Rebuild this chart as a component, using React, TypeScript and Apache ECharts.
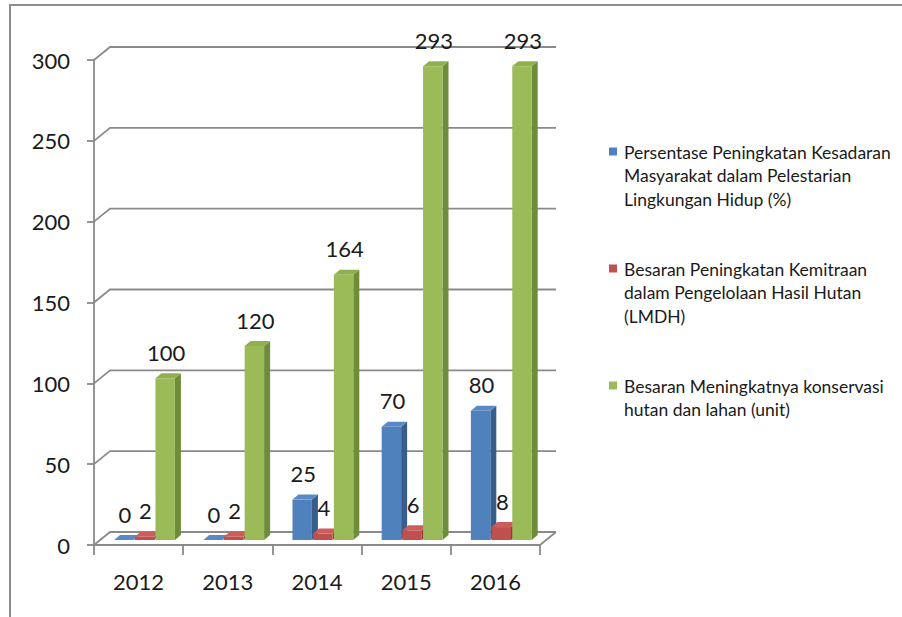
import React, { useEffect, useRef } from "react";
import * as echarts from "echarts";

const categories = ["2012", "2013", "2014", "2015", "2016"];
const seriesNames = [
  "Persentase Peningkatan Kesadaran Masyarakat dalam Pelestarian Lingkungan Hidup (%)",
  "Besaran Peningkatan Kemitraan dalam Pengelolaan Hasil Hutan (LMDH)",
  "Besaran Meningkatnya konservasi hutan dan lahan (unit)",
];
const legendLines = [
  ["Persentase Peningkatan Kesadaran", "Masyarakat dalam Pelestarian", "Lingkungan Hidup (%)"],
  ["Besaran Peningkatan Kemitraan", "dalam Pengelolaan Hasil Hutan", "(LMDH)"],
  ["Besaran Meningkatnya konservasi", "hutan dan lahan (unit)"],
];
const kesadaran = [0, 0, 25, 70, 80];
const kemitraan = [2, 2, 4, 6, 8];
const konservasi = [100, 120, 164, 293, 293];
const yTicks = [0, 50, 100, 150, 200, 250, 300];

const FONT = "Lato, 'Noto Sans', sans-serif";
const AXIS_GRAY = "#8a8a8a";
const TEXT = "#1a1a1a";
const WALL_DX = 16;
const WALL_DY = -13;
const BAR_DX = 6;
const BAR_DY = -5;
const BAR_SHIFT_Y = -5;

const palettes = [
  { front: "#4F81BD", side: "#385D8A", top: "#5A8AC6" },
  { front: "#C0504D", side: "#8C3A38", top: "#CB5E5B" },
  { front: "#9BBB59", side: "#6E8C3A", top: "#8FB04C" },
];

function barGeom(api: any, k: number) {
  const i = api.value(0);
  const v = api.value(1);
  const c = api.coord([i, v]);
  const b = api.coord([i, 0]);
  const bw = api.size([1, 0])[0];
  const left = c[0] - bw / 2 + bw * 0.225 + k * bw * 0.232;
  const w = bw * 0.218;
  const top = c[1] + BAR_SHIFT_Y;
  const base = b[1] + BAR_SHIFT_Y;
  return { left, w, top, base, v };
}

function makeBarSeries(name: string, values: number[], k: number) {
  const p = palettes[k];
  return {
    type: "custom",
    name,
    silent: true,
    z: 5,
    data: values.map((v, i) => [i, v]),
    renderItem: (params: any, api: any) => {
      const { left, w, top, base } = barGeom(api, k);
      const h = base - top;
      return {
        type: "group",
        children: [
          {
            type: "polygon",
            shape: {
              points: [
                [left + w, top],
                [left + w + BAR_DX, top + BAR_DY],
                [left + w + BAR_DX, base + BAR_DY],
                [left + w, base],
              ],
            },
            style: { fill: p.side },
          },
          {
            type: "rect",
            shape: { x: left, y: top, width: w, height: Math.max(h, 0) },
            style: { fill: p.front },
          },
          {
            type: "polygon",
            shape: {
              points: [
                [left, top],
                [left + BAR_DX, top + BAR_DY],
                [left + w + BAR_DX, top + BAR_DY],
                [left + w, top],
              ],
            },
            style: { fill: p.top },
          },
        ],
      };
    },
  };
}

function makeLabelSeries(values: number[], k: number) {
  return {
    type: "custom",
    silent: true,
    z: 20,
    data: values.map((v, i) => [i, v]),
    renderItem: (params: any, api: any) => {
      const { left, w, top, v } = barGeom(api, k);
      return {
        type: "text",
        x: left + w / 2 + 1,
        y: top - 26,
        style: {
          text: String(v),
          fontSize: 22,
          fontFamily: FONT,
          fill: TEXT,
          align: "center",
          verticalAlign: "middle",
        },
      };
    },
  };
}

const wallSeries = {
  type: "custom",
  silent: true,
  z: 1,
  data: yTicks.map((v) => [0, v]),
  renderItem: (params: any, api: any) => {
    const cs = params.coordSys;
    const v = api.value(1);
    const y = api.coord([0, v])[1];
    const x0 = cs.x;
    const x1 = cs.x + cs.width;
    const children: any[] = [
      {
        type: "polyline",
        shape: {
          points: [
            [x0, y],
            [x0 + WALL_DX, y + WALL_DY],
            [x1 + WALL_DX, y + WALL_DY],
          ],
        },
        style: { stroke: AXIS_GRAY, lineWidth: 1.8, fill: null },
      },
    ];
    if (v === 0) {
      children.push({
        type: "line",
        shape: { x1: x1, y1: y, x2: x1 + WALL_DX, y2: y + WALL_DY },
        style: { stroke: AXIS_GRAY, lineWidth: 1.8 },
      });
    }
    return { type: "group", children };
  },
};

export default function App() {
  const ref = useRef<HTMLDivElement>(null);
  useEffect(() => {
    if (!ref.current) return;
    const chart = echarts.init(ref.current, null, { renderer: "svg" });

    const legendGraphics: any[] = [];
    legendLines.forEach((lines, k) => {
      const y0 = 152 + k * 117;
      legendGraphics.push({
        type: "rect",
        shape: { x: 609, y: y0 - 4.5, width: 8, height: 8 },
        style: { fill: palettes[k].front },
      });
      legendGraphics.push({
        type: "text",
        x: 624,
        y: y0 - 11.75,
        style: {
          text: lines.join("\n"),
          fontSize: 17.5,
          lineHeight: 23.5,
          fontFamily: FONT,
          fill: TEXT,
          align: "left",
          verticalAlign: "top",
        },
      });
    });

    chart.setOption({
      animation: false,
      backgroundColor: "#ffffff",
      grid: { left: 94, top: 60, width: 446, height: 485, containLabel: false },
      xAxis: {
        type: "category",
        data: categories,
        boundaryGap: true,
        axisLine: { show: true, lineStyle: { color: AXIS_GRAY, width: 1.8 } },
        axisTick: { show: true, length: 10, alignWithLabel: false, lineStyle: { color: AXIS_GRAY, width: 1.8 } },
        axisLabel: { fontSize: 22, fontFamily: FONT, color: TEXT, margin: 25 },
        splitLine: { show: false },
        z: 10,
      },
      yAxis: {
        type: "value",
        min: 0,
        max: 300,
        interval: 50,
        axisLine: { show: true, lineStyle: { color: AXIS_GRAY, width: 1.8 } },
        axisTick: { show: true, length: 7, lineStyle: { color: AXIS_GRAY, width: 1.8 } },
        axisLabel: { fontSize: 22, fontFamily: FONT, color: TEXT, margin: 24 },
        splitLine: { show: false },
        z: 10,
      },
      graphic: [
        {
          type: "polyline",
          shape: { points: [[10, 617], [10, 5], [902, 5]] },
          style: { stroke: "#8e8e8e", lineWidth: 2, fill: null },
        },
        ...legendGraphics,
      ],
      series: [
        wallSeries,
        makeBarSeries(seriesNames[0], kesadaran, 0),
        makeBarSeries(seriesNames[1], kemitraan, 1),
        makeBarSeries(seriesNames[2], konservasi, 2),
        makeLabelSeries(kesadaran, 0),
        makeLabelSeries(kemitraan, 1),
        makeLabelSeries(konservasi, 2),
      ],
    });
    return () => chart.dispose();
  }, []);
  return (
    <div
      ref={ref}
      style={{ position: "absolute", left: 0, top: 0, width: 902, height: 617 }}
    />
  );
}
